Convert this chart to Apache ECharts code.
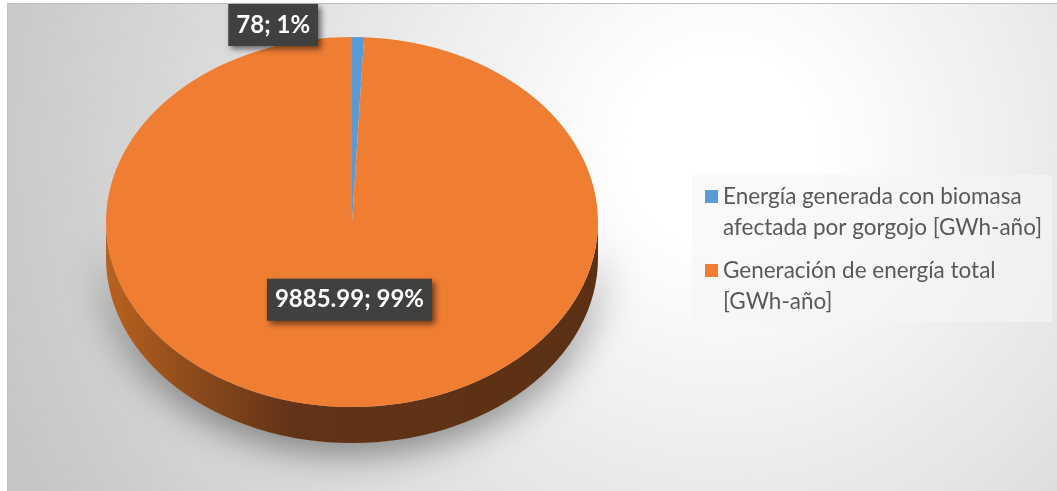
<!DOCTYPE html>
<html>
<head>
<meta charset="utf-8">
<script src="https://cdn.jsdelivr.net/npm/echarts@6/dist/echarts.min.js"></script>
<style>
html,body{margin:0;padding:0;background:#ffffff;}
#chart{width:1057px;height:491px;}
</style>
</head>
<body>
<div id="chart"></div>
<script>
// ---- data ----
const categories = [
  'Energía generada con biomasa\nafectada por gorgojo [GWh-año]',
  'Generación de energía total\n[GWh-año]'
];
const values = [78, 9885.99];
const colors = ['#5b9bd5', '#ef7e32'];

// ---- layout / style ----
const PIE = { cx: 352, cy: 222, rx: 246, ry: 185, depth: 36 };
const total = values.reduce((a, b) => a + b, 0);

const sideGradient = {
  type: 'linear', x: 0, y: 0, x2: 1, y2: 0,
  colorStops: [
    { offset: 0, color: '#b9621f' },
    { offset: 0.18, color: '#8c4a1b' },
    { offset: 0.38, color: '#623317' },
    { offset: 1, color: '#5c3013' }
  ]
};

function makeRenderItem(idx) {
  return function (params, api) {
    const v = api.value(0);
    let before = 0;
    for (let k = 0; k < idx; k++) before += values[k];
    const a0 = -Math.PI / 2 + 2 * Math.PI * before / total;
    const a1 = a0 + 2 * Math.PI * v / total;
    const { cx, cy, rx, ry, depth } = PIE;
    const P = t => [cx + rx * Math.cos(t), cy + ry * Math.sin(t)];
    const children = [];

    // visible side wall (lower half of ellipse)
    const lo = Math.max(a0, 0), hi = Math.min(a1, Math.PI);
    if (hi > lo) {
      const p0 = P(lo), p1 = P(hi);
      const path = 'M' + p0[0] + ',' + p0[1] +
        ' A' + rx + ',' + ry + ' 0 0 1 ' + p1[0] + ',' + p1[1] +
        ' L' + p1[0] + ',' + (p1[1] + depth) +
        ' A' + rx + ',' + ry + ' 0 0 0 ' + p0[0] + ',' + (p0[1] + depth) + ' Z';
      children.push({
        type: 'path',
        shape: { pathData: path },
        style: {
          fill: sideGradient,
          shadowBlur: 38, shadowColor: 'rgba(0,0,0,0.5)',
          shadowOffsetX: 0, shadowOffsetY: 8
        }
      });
    }

    // top face
    children.push({
      type: 'sector',
      x: cx, y: cy, scaleX: 1, scaleY: ry / rx,
      shape: { cx: 0, cy: 0, r0: 0, r: rx, startAngle: a0, endAngle: a1, clockwise: true },
      style: { fill: api.visual('color') }
    });

    // data label
    const pct = Math.round(v / total * 100);
    const mid = (a0 + a1) / 2;
    const text = v + '; ' + pct + '%';
    let lx, ly, align, valign;
    if (v / total < 0.05) {
      const p = P(mid);
      lx = p[0] - 40; ly = p[1] + 9; align = 'right'; valign = 'bottom';
    } else {
      lx = cx + 0.42 * rx * Math.cos(mid);
      ly = cy + 0.42 * ry * Math.sin(mid);
      align = 'center'; valign = 'middle';
    }
    children.push({
      type: 'text',
      z2: 100,
      x: lx, y: ly,
      style: {
        text: text,
        fill: '#ffffff',
        fontFamily: 'Lato', fontWeight: 'bold', fontSize: 24,
        lineHeight: 26,
        align: align, verticalAlign: valign,
        backgroundColor: '#404040',
        padding: [8, 8, 8, 8],
        shadowBlur: 6, shadowColor: 'rgba(0,0,0,0.55)',
        shadowOffsetX: 3, shadowOffsetY: 3
      }
    });

    return { type: 'group', children: children };
  };
}

const chart = echarts.init(document.getElementById('chart'), null, { renderer: 'canvas' });

const series = categories.map((name, i) => ({
  type: 'custom',
  name: name,
  coordinateSystem: 'none',
  silent: true,
  animation: false,
  itemStyle: { color: colors[i] },
  data: [[values[i]]],
  renderItem: makeRenderItem(i)
}));

chart.setOption({
  animation: false,
  backgroundColor: '#ffffff',
  graphic: [
    {
      type: 'rect', z: -10, silent: true,
      shape: { x: 7.5, y: 3.5, width: 1050, height: 488 },
      style: {
        fill: {
          type: 'radial', x: 0.68, y: 0.3, r: 1.55,
          colorStops: [
            { offset: 0, color: '#ffffff' },
            { offset: 0.12, color: '#ffffff' },
            { offset: 1, color: '#c6c6c6' }
          ]
        },
        stroke: '#c0c0c0', lineWidth: 1
      }
    },
    {
      type: 'rect', z: -5, silent: true,
      shape: { x: 692, y: 175, width: 360, height: 147 },
      style: { fill: 'rgba(245,245,245,0.6)' }
    }
  ],
  legend: {
    orient: 'vertical',
    left: 705,
    top: 181,
    padding: 0,
    itemWidth: 13,
    itemHeight: 44,
    itemGap: 12,
    // square marker aligned with the first text line (tiny invisible point keeps the box height)
    icon: 'path://M0,0H13V13H0Z M0,43.95H0.05V44H0Z',
    symbolKeepAspect: false,
    itemStyle: { borderWidth: 0 },
    selectedMode: false,
    data: categories,
    textStyle: {
      fontFamily: 'Lato',
      fontSize: 22.5,
      color: '#595959',
      lineHeight: 31
    }
  },
  series: series
});
</script>
</body>
</html>
